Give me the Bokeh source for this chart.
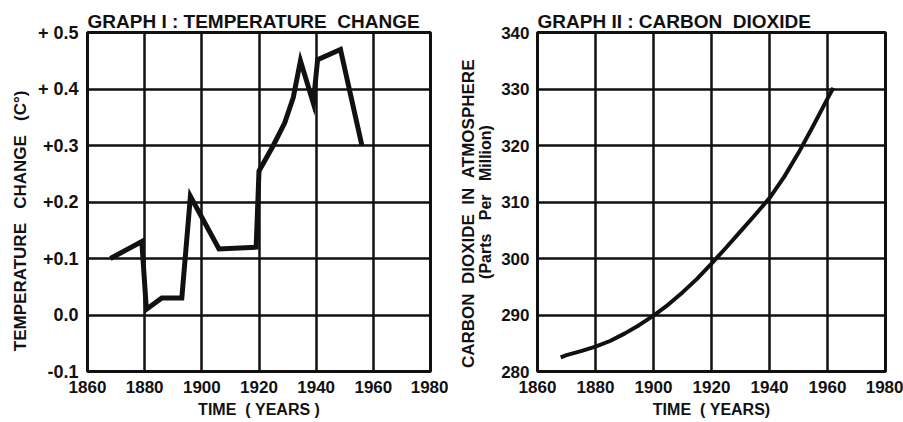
from bokeh.plotting import figure
from bokeh.layouts import row
from bokeh.models import Range1d, FixedTicker, LinearAxis
from bokeh.embed import file_html
from bokeh.resources import INLINE

# ---- data ----
temp_years = [1868, 1879, 1880.6, 1886, 1893, 1896, 1906, 1919, 1920, 1925, 1929, 1932, 1934.5, 1939, 1940.5, 1948.5, 1956]
temp_values = [0.10, 0.13, 0.01, 0.03, 0.03, 0.21, 0.117, 0.12, 0.255, 0.30, 0.34, 0.385, 0.45, 0.375, 0.452, 0.47, 0.30]

co2_years = [1868, 1870, 1875, 1880, 1885, 1890, 1895, 1900, 1905, 1910, 1915, 1920, 1925, 1930, 1935, 1940, 1945, 1950, 1955, 1960, 1962]
co2_values = [282.5, 282.9, 283.6, 284.4, 285.4, 286.7, 288.2, 289.9, 291.8, 294.0, 296.4, 299.1, 301.9, 304.8, 307.7, 310.7, 314.4, 318.7, 323.4, 328.3, 330.2]

year_ticks = [1860, 1880, 1900, 1920, 1940, 1960, 1980]
temp_ticks = [-0.1, 0.0, 0.1, 0.2, 0.3, 0.4, 0.5]
temp_tick_labels = ["-0.1", "0.0", "+0.1", "+0.2", "+0.3", "+ 0.4", "+ 0.5"]
co2_ticks = [280, 290, 300, 310, 320, 330, 340]

title_1 = "GRAPH I : TEMPERATURE\u00a0\u00a0CHANGE"
title_2 = "GRAPH II : CARBON\u00a0\u00a0DIOXIDE"
xlabel_1 = "TIME\u00a0 (\u00a0YEARS\u00a0)"
xlabel_2 = "TIME\u00a0 (\u00a0YEARS)"
ylabel_1 = "TEMPERATURE\u00a0\u00a0\u00a0CHANGE\u00a0\u00a0\u00a0(C\u00b0)" + "\u00a0" * 8
ylabel_2a = "(Parts\u00a0\u00a0\u00a0Per\u00a0\u00a0\u00a0Million)"
ylabel_2b = "CARBON\u00a0\u00a0DIOXIDE\u00a0\u00a0IN\u00a0\u00a0ATMOSPHERE" + "\u00a0" * 5

INK = "#111111"
FONT = "Liberation Sans"


def style(p, title):
    p.title.text = title
    p.title.text_font = FONT
    p.title.text_font_size = "19px"
    p.title.text_font_style = "bold"
    p.title.text_color = INK
    p.title.align = "left"
    p.title.standoff = 2
    p.outline_line_color = INK
    p.outline_line_width = 3
    p.background_fill_color = "white"
    p.border_fill_color = "white"
    for g in (p.xgrid[0], p.ygrid[0]):
        g.grid_line_color = INK
        g.grid_line_width = 2.5
    for ax in p.axis:
        ax.axis_line_color = None
        ax.major_tick_out = 0
        ax.major_tick_in = 0
        ax.minor_tick_line_color = None
        ax.major_label_text_font = FONT
        ax.major_label_text_font_size = "17px"
        ax.major_label_text_font_style = "bold"
        ax.major_label_text_color = INK
        ax.axis_label_text_font = FONT
        ax.axis_label_text_font_size = "16px"
        ax.axis_label_text_font_style = "bold"
        ax.axis_label_text_color = INK
    p.xaxis.ticker = FixedTicker(ticks=year_ticks)
    p.xaxis.major_label_standoff = 9
    p.xaxis.axis_label_standoff = 5


# ---- Graph I ----
p1 = figure(width=448, height=420, output_backend="svg", toolbar_location=None,
            x_range=Range1d(1860, 1980), y_range=Range1d(-0.1, 0.5),
            min_border_left=87, min_border_right=18, min_border_top=32, min_border_bottom=47)
style(p1, title_1)
p1.yaxis.ticker = FixedTicker(ticks=temp_ticks)
p1.yaxis.major_label_overrides = dict(zip(temp_ticks, temp_tick_labels))
p1.yaxis.major_label_standoff = 9
p1.yaxis.major_label_text_font_size = "18px"
p1.yaxis.axis_label = ylabel_1
p1.yaxis.axis_label_standoff = 5
p1.yaxis.axis_label_text_font_size = "17px"
p1.xaxis.axis_label = xlabel_1
p1.line(temp_years, temp_values, line_color=INK, line_width=5, line_join="miter")

# ---- Graph II ----
p2 = figure(width=455, height=420, output_backend="svg", toolbar_location=None,
            x_range=Range1d(1860, 1980), y_range=Range1d(280, 340),
            min_border_left=89, min_border_right=18, min_border_top=32, min_border_bottom=47)
style(p2, title_2)
p2.yaxis.ticker = FixedTicker(ticks=co2_ticks)
p2.yaxis.major_label_standoff = 8
p2.yaxis.axis_label = ylabel_2a
p2.yaxis.axis_label_standoff = 4
p2.yaxis.axis_label_text_font_size = "16px"
p2.xaxis.axis_label = xlabel_2

outer = LinearAxis(ticker=FixedTicker(ticks=[]), axis_label=ylabel_2b,
                   axis_line_color=None, major_tick_out=0, major_tick_in=0,
                   minor_tick_line_color=None, major_label_text_font_size="0px",
                   major_label_standoff=0, axis_label_standoff=-3,
                   axis_label_text_font=FONT, axis_label_text_font_size="17px",
                   axis_label_text_font_style="bold", axis_label_text_color=INK)
p2.add_layout(outer, "left")
p2.line(co2_years, co2_values, line_color=INK, line_width=4, line_join="round")

layout = row(p1, p2)
open("out.html", "w").write(file_html(layout, INLINE))
